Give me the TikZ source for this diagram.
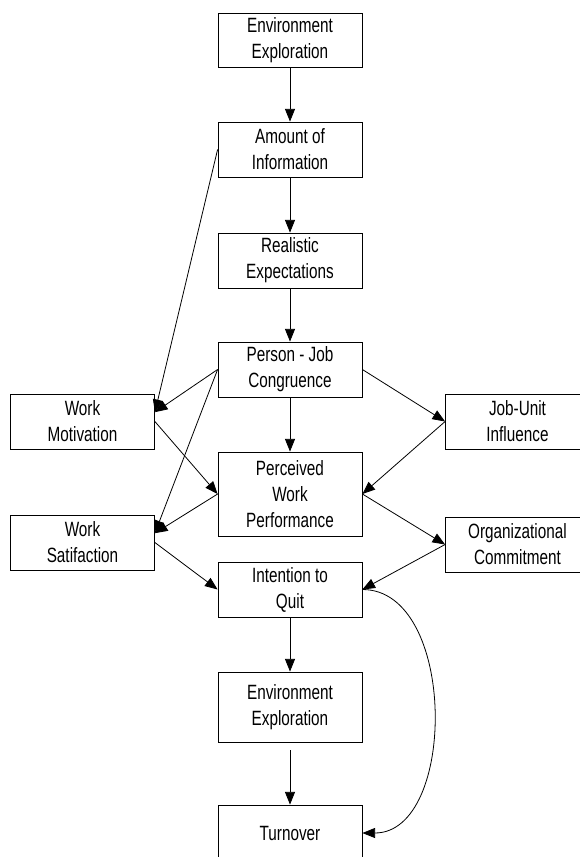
\documentclass[tikz,border=0pt]{standalone}
\usepackage{fontspec}
\setmainfont{Liberation Sans}[FakeStretch=0.74]
\usetikzlibrary{arrows.meta}
\pgfdeclarelayer{bg}
\pgfsetlayers{bg,main}
\tikzset{
    every node/.style={rectangle, draw, line width=0.6pt, align=center, inner sep=0mm,
        minimum width=108pt, minimum height=41.25pt,
        font=\fontsize{15.5pt}{19.5pt}\selectfont}
}
\tikzset{>={Triangle[length=9.5pt, width=7.5pt]}}
\tikzset{every edge/.append style={line width=0.6pt}}

\begin{document}
\begin{tikzpicture}[x=0.75pt, y=-0.75pt]
        \useasboundingbox (0,0) rectangle (580,857);
        \node (v0) at (290, 40) [minimum height=40.5pt] {Environment\\Exploration};
        \node (v1) at (290, 149.5) {Amount of\\Information};
        \node (v2) at (290, 260.5) {Realistic\\Expectations};
        \node (v3) at (290, 369.5) {Person - Job\\Congruence};
        \node (v4) at (82.5, 421.5) {Work\\Motivation};
        \node (v5) at (517.5, 421.5) {Job-Unit\\Influence};
        \node (v6) at (290, 494) [minimum height=63pt] {Perceived\\Work\\Performance};
        \node (v7) at (82.5, 542.5) {Work\\Satifaction};
        \node (v8) at (517.5, 544.5) {Organizational\\Commitment};
        \node (v9) at (290, 589.5) {Intention to\\Quit};
        \node (v10) at (290, 707) [minimum height=52.5pt] {Environment\\Exploration};
        \node (v11) at (290, 833) [minimum height=42pt] {Turnover};
        \begin{pgfonlayer}{bg}
                \draw (v0) edge [->] (v1);
                \draw (v1) edge [->] (v2);
                \draw (v2) edge [->] (v3);
                \draw (v3) edge [->] (v6);
                \draw (v1.west) edge [->] ([yshift=7pt]v4.east);
                \draw (v3.west) edge [->] ([yshift=7pt]v4.east);
                \draw (v3.west) edge [->] ([yshift=7pt]v7.east);
                \draw (v4.east) edge [->] (v6.west);
                \draw (v6.west) edge [->] ([yshift=7pt]v7.east);
                \draw (v7.east) edge [->] (v9.west);
                \draw (v3.east) edge [->] (v5.west);
                \draw (v5.west) edge [->] (v6.east);
                \draw (v6.east) edge [->] (v8.west);
                \draw (v8.west) edge [->] (v9.east);
                \draw (v9) edge [->] (v10);
                \draw (v10) edge [->, shorten <=6pt] (v11);
                \draw (v9.east) edge [->, out=0, in=0] (v11.east);
        \end{pgfonlayer}
\end{tikzpicture}
\end{document}
